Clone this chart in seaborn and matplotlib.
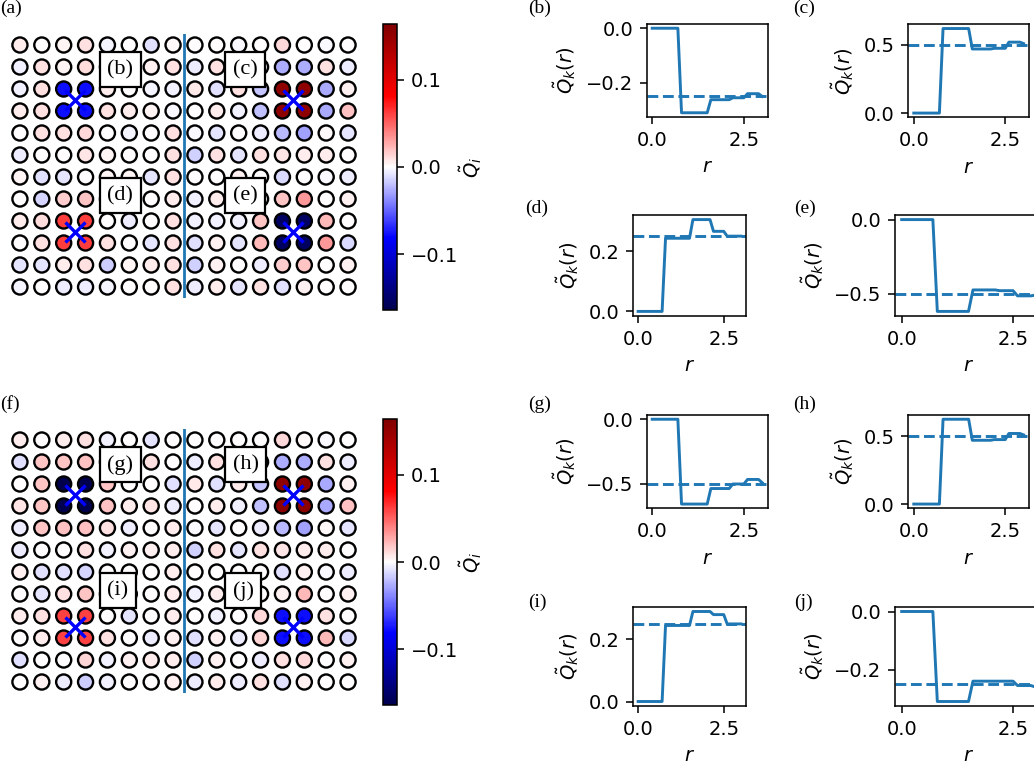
import numpy as np
import pandas as pd
import matplotlib
matplotlib.use("Agg")
import matplotlib.pyplot as plt
import seaborn as sns
from matplotlib.colors import Normalize
from matplotlib.cm import ScalarMappable
from matplotlib.ticker import MaxNLocator

# ---------------------------------------------------------------- data
# Site charges on the 12 x 16 lattice (row 0 = top)
Q_TOP = [
    [0.006, 0, 0.003, 0.009, -0.003, 0, -0.01, 0.002, 0, 0, -0.002, 0, 0.012, 0, -0.002, 0],
    [-0.005, 0.009, 0.003, 0.011, 0.006, 0.003, 0.005, 0.009, -0.006, 0.009, 0.007, -0.006, -0.026, -0.026, 0.009, -0.006],
    [-0.005, 0.009, -0.078, -0.078, 0.006, 0, -0.003, -0.005, 0.007, -0.01, 0.009, -0.018, 0.155, 0.155, -0.028, 0.004],
    [0.006, 0.009, -0.078, -0.078, 0.009, 0.006, 0.003, -0.002, 0, 0.006, -0.004, -0.02, 0.155, 0.155, -0.028, 0.02],
    [0, 0.009, 0.009, 0.012, 0, -0.003, 0, 0.01, -0.002, -0.008, 0, -0.006, -0.023, -0.03, 0.002, -0.008],
    [-0.006, 0, 0, 0.008, 0.003, 0, 0, 0.01, -0.015, 0.009, -0.008, 0.009, 0.008, 0.006, 0.006, 0],
    [0.003, -0.01, -0.008, 0, 0.003, 0.003, -0.008, 0.01, 0, 0, 0.004, 0, -0.012, 0, -0.002, -0.006],
    [0, -0.014, 0.016, 0.018, 0, 0, 0, 0.006, -0.004, 0.006, 0, 0, 0.018, 0.033, 0, 0.004],
    [0.006, 0.011, 0.062, 0.062, 0, -0.006, 0, 0.01, -0.004, -0.005, -0.004, 0.018, -0.155, -0.155, 0.022, 0],
    [0, 0.009, 0.062, 0.062, 0.009, 0, -0.008, 0.01, -0.01, 0.004, -0.008, 0.022, -0.155, -0.155, 0.033, -0.012],
    [-0.008, -0.008, 0.006, 0.009, -0.016, 0.003, 0.006, 0.01, -0.015, 0.005, 0, -0.006, 0.016, 0.018, 0, 0.004],
    [-0.003, 0, -0.006, -0.006, -0.003, 0, 0, 0.01, -0.006, 0.006, -0.008, 0.009, -0.01, 0.004, 0, 0],
]
Q_BOTTOM = [
    [0.006, 0, 0.006, 0.009, -0.004, 0, -0.008, 0, 0, 0, 0, 0, 0.012, 0.002, -0.002, 0],
    [-0.01, 0.018, 0.018, 0.02, 0.007, 0.004, 0.009, 0, -0.006, 0.009, 0.007, -0.006, -0.026, -0.026, 0.009, -0.006],
    [0, 0.018, -0.164, -0.164, 0.018, 0, 0, -0.01, 0.007, -0.01, 0.007, -0.018, 0.156, 0.156, -0.028, 0.004],
    [0.008, 0.018, -0.164, -0.164, 0.02, 0.006, 0.008, -0.006, 0, 0.006, -0.004, -0.02, 0.156, 0.156, -0.028, 0.02],
    [-0.006, 0.018, 0.02, 0.02, 0.01, -0.006, 0, 0.006, -0.002, -0.008, 0, -0.006, -0.023, -0.03, 0.002, -0.008],
    [-0.006, 0, 0, 0.01, -0.004, 0.004, 0.004, 0.006, -0.015, 0.009, -0.008, 0.009, 0.008, 0.006, 0.006, 0],
    [0.004, -0.01, -0.01, -0.013, 0, 0, 0, 0.006, 0, 0, 0, 0, -0.01, 0.004, -0.002, -0.006],
    [0, -0.008, 0.01, 0.018, 0, 0.004, 0, 0.006, -0.004, 0.006, 0, 0, 0.005, 0.022, 0, 0.004],
    [0.006, 0.01, 0.061, 0.061, 0, -0.008, 0, 0.006, 0, -0.004, 0, 0.012, -0.078, -0.078, 0.01, 0],
    [0, 0.006, 0.061, 0.061, 0.01, 0, -0.006, 0.004, -0.01, 0.004, -0.006, 0.013, -0.078, -0.078, 0.022, -0.012],
    [-0.01, 0, 0, 0.013, -0.005, 0.004, 0.006, 0.006, -0.015, 0.005, 0, -0.006, 0.01, 0.012, 0, 0.004],
    [0, 0.005, -0.006, -0.016, -0.004, 0, 0, 0.004, -0.006, 0.006, -0.006, 0.01, -0.01, 0.004, 0, 0],
]
Q_RANGE = 0.164

# plaquette centres (column, row) and their tags
CENTRES = [(2.5, 2.5), (12.5, 2.5), (2.5, 8.5), (12.5, 8.5)]
TAGS_TOP = ["(b)", "(c)", "(d)", "(e)"]
TAGS_BOTTOM = ["(g)", "(h)", "(i)", "(j)"]
TAG_POS = [(4.0, 1.12), (9.72, 1.12), (4.0, 6.85), (9.72, 6.85)]

# cumulative charge around each plaquette vs. radius
R = [0.0, 0.7, 0.8, 1.5, 1.6, 2.1, 2.2, 2.5, 2.6, 2.9, 3.0]
QK = {
    "(b)": [0, 0, -0.31, -0.31, -0.262, -0.262, -0.255, -0.255, -0.24, -0.24, -0.25],
    "(c)": [0, 0, 0.62, 0.62, 0.47, 0.47, 0.475, 0.475, 0.52, 0.52, 0.51],
    "(d)": [0, 0, 0.243, 0.243, 0.305, 0.305, 0.266, 0.266, 0.25, 0.25, 0.25],
    "(e)": [0, 0, -0.62, -0.62, -0.475, -0.475, -0.48, -0.48, -0.515, -0.515, -0.51],
    "(g)": [0, 0, -0.655, -0.655, -0.535, -0.535, -0.5, -0.5, -0.465, -0.465, -0.49],
    "(h)": [0, 0, 0.625, 0.625, 0.47, 0.47, 0.475, 0.475, 0.52, 0.52, 0.51],
    "(i)": [0, 0, 0.245, 0.245, 0.29, 0.29, 0.28, 0.28, 0.25, 0.25, 0.25],
    "(j)": [0, 0, -0.31, -0.31, -0.24, -0.24, -0.24, -0.24, -0.255, -0.255, -0.26],
}
QK_TARGET = {"(b)": -0.25, "(c)": 0.5, "(d)": 0.25, "(e)": -0.5,
             "(g)": -0.5, "(h)": 0.5, "(i)": 0.25, "(j)": -0.25}

# ---------------------------------------------------------------- style
W, H = 1034, 767
plt.rcParams.update({
    'font.family': ['DejaVu Sans'],
    'mathtext.fontset': 'dejavusans',
    'axes.linewidth': 1.12,
    'axes.labelpad': 5.6,
    'xtick.major.size': 4.9, 'ytick.major.size': 4.9,
    'xtick.major.width': 1.12, 'ytick.major.width': 1.12,
    'xtick.major.pad': 4.9, 'ytick.major.pad': 4.9,
})
SERIF = ['Liberation Serif', 'DejaVu Serif']
BLUE = '#1f77b4'

fig = plt.figure(figsize=(W / 100, H / 100), dpi=100)


def px_axes(l, t, r, b):
    return fig.add_axes([l / W, 1 - b / H, (r - l) / W, (b - t) / H])


norm = Normalize(-Q_RANGE, Q_RANGE)


def lattice(box, cbox, q, tags):
    ax = px_axes(*box)
    rows, cols = np.indices(np.shape(q))
    df = pd.DataFrame({"col": cols.ravel(), "row": rows.ravel(),
                       "q": np.ravel(q)})
    sns.scatterplot(data=df, x="col", y="row", hue="q", palette="seismic",
                    hue_norm=norm, s=118, edgecolor="black", linewidth=1.7,
                    legend=False, ax=ax, zorder=2)
    ax.axvline(7.5, color=BLUE, lw=2.0, zorder=1)
    cx, cy = zip(*CENTRES)
    ax.plot(cx, cy, ls="none", marker="x", ms=14, mew=2.4,
            color="#0000ff", zorder=3)
    for (tx, ty), tag in zip(TAG_POS, tags):
        ax.text(tx, ty, tag, ha="left", va="center", fontsize=16,
                family=SERIF, zorder=4,
                bbox=dict(boxstyle="square,pad=0.35", fc="white",
                          ec="black", lw=1.6))
    ax.set_xlim(-0.5, 15.5)
    ax.set_ylim(11.5, -0.5)
    ax.axis("off")
    cax = px_axes(*cbox)
    cb = fig.colorbar(ScalarMappable(norm=norm, cmap="seismic"), cax=cax)
    cb.set_ticks([-0.1, 0.0, 0.1])
    cb.outline.set_linewidth(1.12)
    cb.ax.tick_params(labelsize=14)
    cb.set_label(r"$\tilde{Q}_i$", fontsize=14, labelpad=0)


def profile(box, tag):
    ax = px_axes(*box)
    sns.lineplot(x=R, y=QK[tag], ax=ax, color=BLUE, lw=2.1)
    ax.axhline(QK_TARGET[tag], color=BLUE, ls="--", lw=2.1)
    ax.xaxis.set_major_locator(MaxNLocator(2, steps=[1, 2.5, 5, 10]))
    ax.yaxis.set_major_locator(MaxNLocator(2, steps=[1, 2, 5, 10]))
    ax.tick_params(labelsize=14)
    ax.set_xlabel(r"$r$", fontsize=14)
    ax.set_ylabel(r"$\tilde{Q}_k(r)$", fontsize=14)
    return ax


lattice((9, 34, 359, 298), (383, 24, 397, 310), Q_TOP, TAGS_TOP)
lattice((9, 429, 359, 693), (383, 419, 397, 705), Q_BOTTOM, TAGS_BOTTOM)

BOXES = {
    "(b)": (646.7, 24, 767.7, 117),
    "(c)": (908.3, 24.3, 1029, 117.3),
    "(d)": (633, 215, 746, 316),
    "(e)": (895, 215, 1042, 316),
    "(g)": (646.7, 415, 767.7, 508.3),
    "(h)": (908.3, 415, 1029, 508.3),
    "(i)": (633, 607, 746, 706),
    "(j)": (895, 607, 1042, 706),
}
for tag, box in BOXES.items():
    profile(box, tag)

# panel tags
PANEL_TAGS = {"(a)": (0, 8), "(f)": (0, 404),
              "(b)": (528, 8), "(c)": (793, 8),
              "(d)": (525, 208), "(e)": (794, 208),
              "(g)": (528, 404), "(h)": (793, 404),
              "(i)": (528, 602), "(j)": (794, 602)}
for tag, (x, y) in PANEL_TAGS.items():
    fig.text(x / W, 1 - y / H, tag, ha="left", va="center",
             fontsize=14, family=SERIF)

fig.savefig("out.png", dpi=100)
